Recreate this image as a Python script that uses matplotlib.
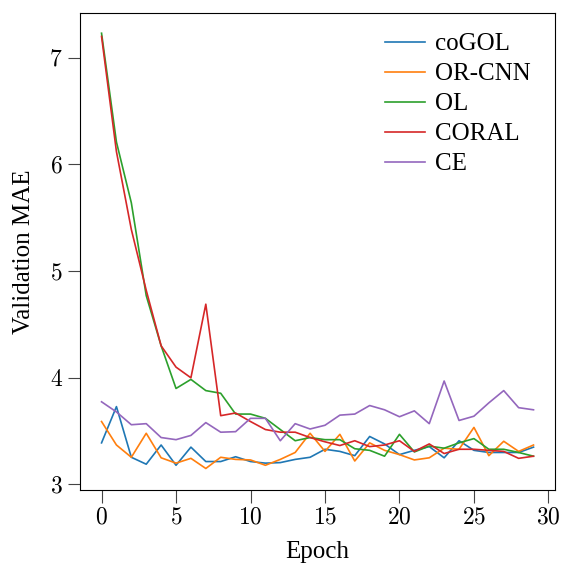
import numpy as np
import matplotlib.pyplot as plt
from matplotlib.ticker import FuncFormatter

plt.rcParams['font.family'] = ['Liberation Serif', 'DejaVu Serif']
plt.rcParams['mathtext.fontset'] = 'cm'

epochs = np.arange(30)

cogol = [3.39, 3.73, 3.255, 3.19, 3.37, 3.18, 3.35, 3.215, 3.215, 3.26,
         3.215, 3.20, 3.205, 3.235, 3.255, 3.33, 3.31, 3.27, 3.45, 3.38,
         3.28, 3.32, 3.355, 3.25, 3.41, 3.32, 3.30, 3.30, 3.30, 3.35]
orcnn = [3.59, 3.37, 3.255, 3.48, 3.25, 3.20, 3.245, 3.15, 3.255, 3.235,
         3.23, 3.18, 3.235, 3.30, 3.48, 3.31, 3.47, 3.22, 3.39, 3.32,
         3.28, 3.23, 3.25, 3.34, 3.33, 3.535, 3.27, 3.405, 3.31, 3.37]
ol = [7.23, 6.21, 5.64, 4.77, 4.30, 3.90, 3.985, 3.88, 3.855, 3.66,
      3.66, 3.62, 3.515, 3.41, 3.44, 3.42, 3.42, 3.335, 3.32, 3.265,
      3.47, 3.305, 3.36, 3.34, 3.39, 3.43, 3.33, 3.33, 3.30, 3.265]
coral = [7.20, 6.12, 5.39, 4.82, 4.30, 4.10, 4.00, 4.69, 3.645, 3.67,
         3.59, 3.515, 3.49, 3.49, 3.44, 3.40, 3.365, 3.41, 3.355, 3.37,
         3.41, 3.31, 3.38, 3.29, 3.33, 3.33, 3.32, 3.31, 3.245, 3.265]
ce = [3.775, 3.68, 3.56, 3.57, 3.44, 3.42, 3.46, 3.58, 3.49, 3.495,
      3.62, 3.62, 3.41, 3.57, 3.52, 3.555, 3.65, 3.66, 3.74, 3.70,
      3.635, 3.69, 3.57, 3.97, 3.60, 3.64, 3.765, 3.88, 3.72, 3.70]

series = [("coGOL", cogol, "#1f77b4"),
          ("OR-CNN", orcnn, "#ff7f0e"),
          ("OL", ol, "#2ca02c"),
          ("CORAL", coral, "#d62728"),
          ("CE", ce, "#9467bd")]

fig = plt.figure(figsize=(5.63, 5.63), dpi=100)
ax = fig.add_axes([0.142, 0.13, 0.844, 0.847])
for name, vals, col in series:
    ax.plot(epochs, vals, color=col, lw=1.2, label=name)

ax.set_xlabel("Epoch", fontsize=18, labelpad=9)
ax.set_ylabel("Validation MAE", fontsize=18, labelpad=10)
ax.set_xticks([0, 5, 10, 15, 20, 25, 30])
ax.set_yticks([3, 4, 5, 6, 7])
ax.set_ylim(2.95, 7.42)
fmt = FuncFormatter(lambda v, p: r"$%d$" % v)
ax.xaxis.set_major_formatter(fmt)
ax.yaxis.set_major_formatter(fmt)
ax.tick_params(labelsize=17, length=9, color="#444444")
ax.legend(frameon=False, fontsize=18, loc="upper right", handlelength=1.6,
          labelspacing=0.3, handletextpad=0.4, borderaxespad=0.4,
          bbox_to_anchor=(0.99, 1.0))
fig.savefig("out.png", dpi=100)
